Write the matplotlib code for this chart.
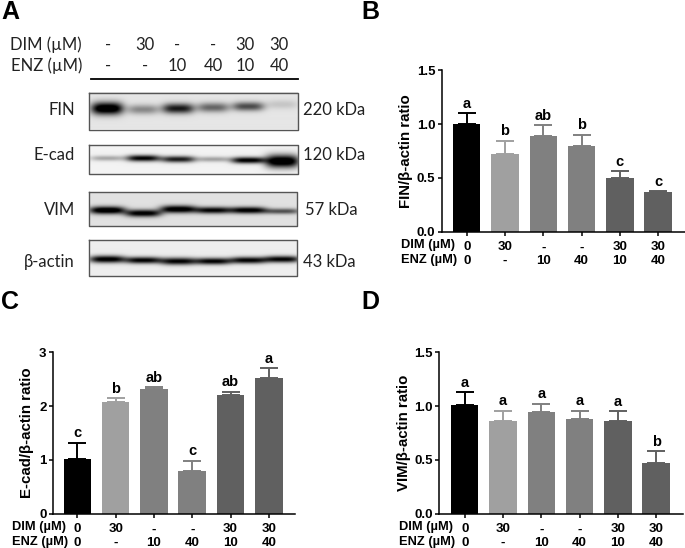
import numpy as np
import matplotlib
matplotlib.use("Agg")
import matplotlib.pyplot as plt

W, H = 685, 548
SANS = "Liberation Sans"
BLOT_FONT = "Lato"

dim_labels = ["0", "30", "-", "-", "30", "30"]
enz_labels = ["0", "-", "10", "40", "10", "40"]
dim_top = ["-", "30", "-", "-", "30", "30"]
enz_top = ["-", "-", "10", "40", "10", "40"]
bar_colors = ["#000000", "#a0a0a0", "#808080", "#808080", "#606060", "#606060"]

fin_values = [1.00, 0.725, 0.886, 0.793, 0.502, 0.366]
fin_upper = [1.10, 0.846, 0.99, 0.90, 0.56, 0.375]
fin_letters = ["a", "b", "ab", "b", "c", "c"]

ecad_values = [1.017, 2.077, 2.31, 0.80, 2.21, 2.53]
ecad_upper = [1.32, 2.145, 2.35, 0.986, 2.27, 2.70]
ecad_letters = ["c", "b", "ab", "c", "ab", "a"]

vim_values = [1.007, 0.858, 0.942, 0.877, 0.858, 0.474]
vim_upper = [1.128, 0.954, 1.023, 0.954, 0.951, 0.58]
vim_letters = ["a", "a", "a", "a", "a", "b"]

# western blot band densities per lane
lane_x = [107, 143, 178, 213, 248, 282]
top_x = [108, 145, 177, 213, 245, 279]
blot_fin = [1.05, 0.35, 0.78, 0.48, 0.58, 0.12]
blot_ecad = [0.28, 0.92, 0.82, 0.30, 0.95, 1.10]
blot_vim = [1.00, 0.90, 0.95, 0.85, 0.90, 0.55]
blot_actin = [0.95, 0.90, 0.90, 0.90, 0.90, 0.90]
fin_y = [109, 110, 109, 108, 107, 105]
ecad_y = [158, 158, 159, 159, 160, 161]
vim_y = [210, 213, 209, 210, 210, 211]
actin_y = [259, 260, 261, 261, 260, 259]
fin_sig = [4.4, 3.4, 3.6, 3.4, 3.2, 3.2]
ecad_sig = [1.9, 2.3, 2.3, 1.9, 2.3, 4.6]
vim_sig = [2.7, 2.6, 2.7, 2.4, 2.4, 2.0]
actin_sig = [2.6, 2.4, 2.6, 2.4, 2.4, 2.4]

fig = plt.figure(figsize=(W / 100, H / 100), dpi=100, facecolor="white")
px = fig.add_axes([0, 0, 1, 1])
px.set_xlim(0, W)
px.set_ylim(H, 0)
px.axis("off")


def blot(box, dens, ys, sig, halfw, bg):
    x0, x1, y0, y1 = box
    xx, yy = np.meshgrid(np.arange(x0, x1, 0.5), np.arange(y0, y1, 0.5))
    dark = np.zeros_like(xx, dtype=float)
    for lx, d, cy, s in zip(lane_x, dens, ys, sig):
        dark += d * np.exp(-np.abs((xx - lx) / halfw) ** 3.5) * np.exp(-((yy - cy) / (s * 1.4)) ** 2)
    img = np.clip(bg - dark * 1.05, 0, 1)
    px.imshow(img, cmap="gray", vmin=0, vmax=1, extent=(x0, x1, y1, y0),
              aspect="auto", interpolation="bilinear", zorder=1)
    px.plot([x0, x1, x1, x0, x0], [y0, y0, y1, y1, y0], color="#555555", lw=1.0, zorder=2)


blot((89, 298, 93, 129.5), blot_fin, fin_y, fin_sig, 16, 0.90)
blot((89, 298, 145, 174), blot_ecad, ecad_y, ecad_sig, 17, 0.95)
blot((89, 297, 192, 226), blot_vim, vim_y, vim_sig, 18, 0.88)
blot((89, 297, 240, 276), blot_actin, actin_y, actin_sig, 18, 0.93)
px.set_xlim(0, W)
px.set_ylim(H, 0)

px.plot([91, 298], [79, 79], color="black", lw=1.3)

tk = dict(family=BLOT_FONT, color="#222222", fontsize=12, va="center")
px.text(82, 45, "DIM (µM)", ha="right", **tk)
px.text(82, 66, "ENZ (µM)", ha="right", **tk)
for x, a, b in zip(top_x, dim_top, enz_top):
    px.text(x, 45, a, ha="center", **tk)
    px.text(x, 66, b, ha="center", **tk)
for name, y in zip(["FIN", "E-cad", "VIM", "β-actin"], [110, 155, 210, 262]):
    px.text(75, y, name, ha="right", **tk)
for name, x, y in zip(["220 kDa", "120 kDa", "57 kDa", "43 kDa"], [303, 303, 305, 303],
                      [110, 155, 210, 262]):
    px.text(x, y, name, ha="left", **tk)

for letter, x, y in zip("ABCD", [1, 361, 1, 361], [12, 12, 302, 302]):
    px.text(x, y, letter, family=SANS, fontweight="bold", fontsize=18, color="black",
            ha="left", va="center")


def panel(left, right, y0, ytop, c0, values, upper, letters, ymax, yticks, yfmt, ylabel, ylab_x, row_x):
    ax = fig.add_axes([left / W, 1 - y0 / H, (right - left) / W, (y0 - ytop) / H])
    step = 38.3
    ax.set_xlim((left - c0) / step, (right - c0) / step)
    ax.set_ylim(0, ymax)
    x = np.arange(6)
    ax.bar(x, values, width=0.72, color=bar_colors, zorder=2)
    for xi, v, u, col in zip(x, values, upper, bar_colors):
        ax.errorbar(xi, v, yerr=[[0], [u - v]], color=col, capsize=6.5, capthick=1.4,
                    elinewidth=1.4, zorder=1, fmt="none")
    for xi, u, l in zip(x, upper, letters):
        ax.annotate(l, (xi, u), xytext=(0, 4), textcoords="offset points", ha="center",
                    va="baseline", family=SANS, fontweight="bold", fontsize=10.5, color="black")
    for s in ("top", "right"):
        ax.spines[s].set_visible(False)
    for s in ("left", "bottom"):
        ax.spines[s].set_linewidth(1.1)
    ax.patch.set_alpha(0)
    ax.set_yticks(yticks)
    ax.set_yticklabels([yfmt % t for t in yticks], family=SANS, fontweight="bold", fontsize=9.5)
    ax.set_xticks(x)
    ax.set_xticklabels([f"{a}\n{b}" for a, b in zip(dim_labels, enz_labels)], family=SANS,
                       fontweight="bold", fontsize=9.5, linespacing=1.12)
    ax.tick_params(axis="both", length=3, width=1.1, pad=1.5)
    ax.tick_params(axis="x", pad=4)
    px.text(ylab_x, (y0 + ytop) / 2, ylabel, rotation=90, ha="center", va="center",
            family=SANS, fontweight="bold", fontsize=10.8)
    px.text(row_x, y0 + 13.5, "DIM (µM)", family=SANS, fontweight="bold", fontsize=9.3, va="center")
    px.text(row_x, y0 + 28, "ENZ (µM)", family=SANS, fontweight="bold", fontsize=9.3, va="center")


panel(441.7, 684.5, 231.7, 70.3, 466.7, fin_values, fin_upper, fin_letters, 1.5,
      [0, 0.5, 1.0, 1.5], "%.1f", "FIN/β-actin ratio", 406, 401)
panel(52.7, 295, 513.7, 352.3, 77.3, ecad_values, ecad_upper, ecad_letters, 3,
      [0, 1, 2, 3], "%d", "E-cad/β-actin ratio", 27, 12)
panel(439.3, 682.7, 513.7, 352.3, 464.7, vim_values, vim_upper, vim_letters, 1.5,
      [0, 0.5, 1.0, 1.5], "%.1f", "VIM/β-actin ratio", 404, 399)

fig.savefig("out.png", dpi=100)
